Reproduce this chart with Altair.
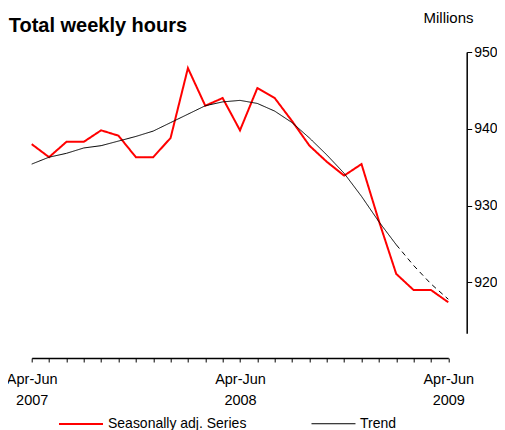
import altair as alt
import pandas as pd

periods = [
    "Apr-Jun 2007", "May-Jul 2007", "Jun-Aug 2007", "Jul-Sep 2007", "Aug-Oct 2007",
    "Sep-Nov 2007", "Oct-Dec 2007", "Nov-Jan 2008", "Dec-Feb 2008", "Jan-Mar 2008",
    "Feb-Apr 2008", "Mar-May 2008", "Apr-Jun 2008", "May-Jul 2008", "Jun-Aug 2008",
    "Jul-Sep 2008", "Aug-Oct 2008", "Sep-Nov 2008", "Oct-Dec 2008", "Nov-Jan 2009",
    "Dec-Feb 2009", "Jan-Mar 2009", "Feb-Apr 2009", "Mar-May 2009", "Apr-Jun 2009",
]
seasonally_adj = [938.0, 936.3, 938.3, 938.3, 939.8, 939.1, 936.3, 936.3, 938.8, 947.9,
                  943.0, 944.0, 939.8, 945.3, 944.0, 941.0, 937.8, 935.7, 933.9, 935.4,
                  928.0, 921.1, 919.0, 919.0, 917.4]
trend = [935.4, 936.3, 936.8, 937.5, 937.8, 938.4, 939.0, 939.7, 940.8, 941.9,
         943.0, 943.5, 943.7, 943.3, 942.3, 940.8, 938.8, 936.6, 934.2, 931.2,
         927.9, 924.9, 922.2, 919.8, 917.8]
trend_dashed_from = 21  # index where trend becomes dashed

series_names = ["Seasonally adj. Series", "Trend"]

rows = []
for i, p in enumerate(periods):
    rows.append({"period": p, "value": seasonally_adj[i], "series": series_names[0], "style": "solid"})
for i, p in enumerate(periods):
    if i <= trend_dashed_from:
        rows.append({"period": p, "value": trend[i], "series": series_names[1], "style": "solid"})
    if i >= trend_dashed_from:
        rows.append({"period": p, "value": trend[i], "series": series_names[1], "style": "dashed"})
df = pd.DataFrame(rows)

FONT = "Liberation Sans"

chart = alt.Chart(df).mark_line(strokeJoin="miter").encode(
    x=alt.X("period:O", sort=periods, scale=alt.Scale(padding=0),
            axis=alt.Axis(title=None, orient="bottom", offset=24.7,
                          labelExpr="indexof(datum.value, 'Apr-Jun') == 0 ? split(datum.value, ' ') : ''",
                          labelAngle=0, labelOverlap=False, labelFont=FONT, labelFontSize=14.5,
                          labelColor="black", labelPadding=10.5, labelLineHeight=21,
                          domainColor="black", domainWidth=1.5, tickColor="black",
                          tickSize=4, tickWidth=1, grid=False)),
    y=alt.Y("value:Q", scale=alt.Scale(domain=[913.36, 950], nice=False, zero=False),
            axis=alt.Axis(orient="right", offset=18.4, values=[920, 930, 940, 950],
                          title="Millions", titleAngle=0, titleAlign="left",
                          titleBaseline="alphabetic", titleX=-43.7, titleY=-30,
                          titleFont=FONT, titleFontSize=15, titleFontWeight="normal",
                          titleColor="black", labelFont=FONT, labelFontSize=14,
                          labelColor="black", labelPadding=2, domainColor="black",
                          domainWidth=1.5, tickColor="black", tickSize=5, tickWidth=1,
                          grid=False)),
    color=alt.Color("series:N", scale=alt.Scale(domain=series_names, range=["#ff0000", "#000000"]),
                    legend=alt.Legend(title=None, orient="none", legendX=26.3, legendY=349,
                                      direction="horizontal", symbolType="stroke",
                                      symbolSize=1936, symbolStrokeWidth=1.5,
                                      labelFont=FONT, labelFontSize=14, labelColor="black",
                                      labelOffset=4, columnPadding=62, labelLimit=0)),
    strokeDash=alt.StrokeDash("style:N", scale=alt.Scale(domain=["solid", "dashed"],
                                                         range=[[1, 0], [5, 4]]), legend=None),
    strokeWidth=alt.StrokeWidth("series:N", scale=alt.Scale(domain=series_names, range=[2, 1]),
                                legend=None),
).properties(
    width=416.6, height=281.3,
    autosize=alt.AutoSizeParams(type="none"),
    padding={"left": 23.7, "top": 44, "right": 48.5, "bottom": 96.7},
    title=alt.TitleParams("Total weekly hours", anchor="start", frame="group", dx=-23,
                          font=FONT, fontSize=20, fontWeight="bold", color="black",
                          baseline="alphabetic", offset=-42),
).configure_view(stroke=None)

chart.save("out.html", embed_options={"renderer": "svg", "actions": False})
